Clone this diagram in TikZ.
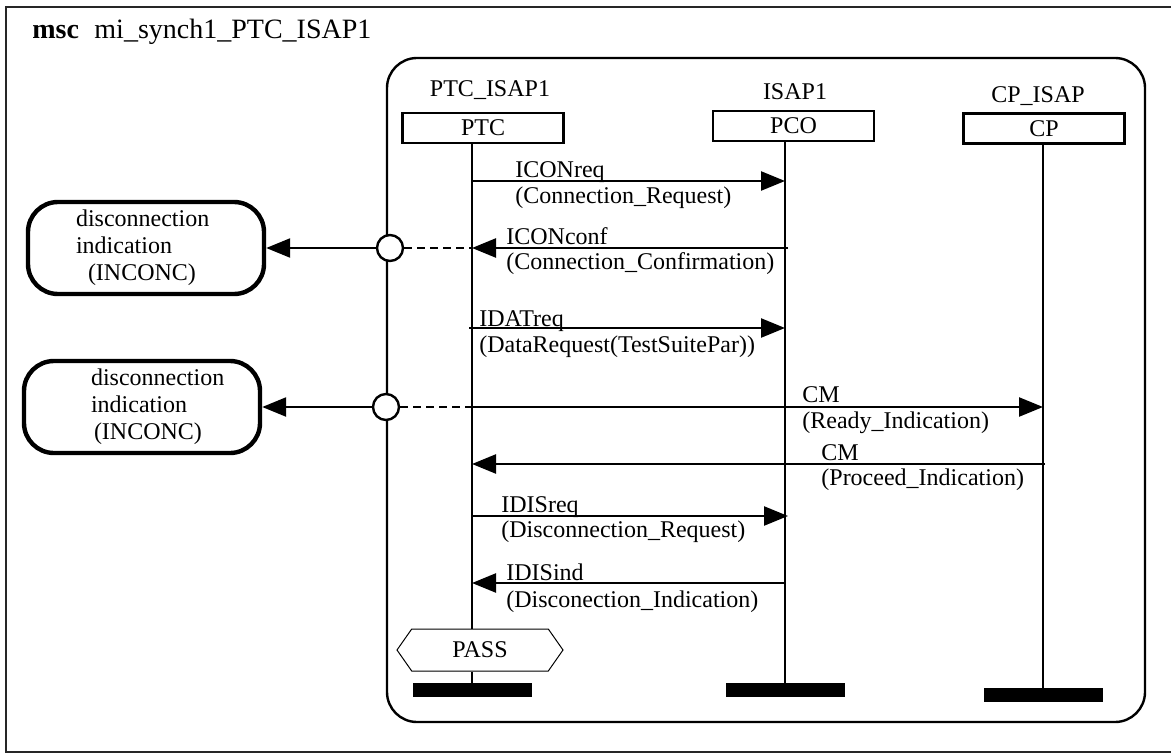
\documentclass[tikz,border=0pt]{standalone}
\usepackage{fontspec}
\setmainfont{Liberation Serif}
\usetikzlibrary{arrows.meta, positioning, shapes.symbols}

\begin{document}
\begin{tikzpicture}[
  x=0.5pt, y=-0.5pt,
  font=\fontsize{12}{13.5}\selectfont,
  inst/.style={draw, line width=1.2pt, minimum width=80.5pt, minimum height=15pt, inner sep=0pt},
  endbar/.style={fill, minimum width=59.5pt, minimum height=7pt, inner sep=0pt},
  life/.style={line width=1.2pt},
  msg/.style={->, line width=1.2pt},
  lbl/.style={anchor=base west, inner sep=0pt},
  verdict/.style={draw, line width=2.2pt, rounded corners=15pt, minimum width=118pt, minimum height=46pt, text width=100pt, align=left, inner sep=0pt},
  port/.style={circle, draw, line width=1.2pt, fill=white, minimum size=13pt, inner sep=0pt},
  >={Triangle[length=12pt, width=9.5pt]}
]
\useasboundingbox (0,0) rectangle (1171,754);

% Frames
\draw[line width=1pt, black!85] (1171,7) -- (6,7) -- (6,752) -- (1171,752);   % outer msc frame
\node[anchor=base west, inner sep=0pt, font=\fontsize{14}{16}\selectfont] (title) at (32,39)
  {\textbf{msc}\hspace{0.55em}mi\_synch1\_PTC\_ISAP1};
\draw[line width=1.2pt, rounded corners=15pt] (387,58) rectangle (1145,722); % test component

% Instances
\node[anchor=base] (ptcname) at (490,97) {PTC\_ISAP1};
\node[anchor=base] (pconame) at (795,100) {ISAP1};
\node[anchor=base] (cpname) at (1038,103) {CP\_ISAP};
\node[inst] (ptc) at (483,128) {PTC};
\node[inst] (pco) at (793.5,126) {PCO};
\node[inst] (cp) at (1044,128.5) {CP};

% Instance ends
\node[endbar] (ptcend) at (472,690) {};
\node[endbar] (pcoend) at (785,690) {};
\node[endbar] (cpend) at (1043,695) {};
\node[signal, signal to=west and east, signal pointer angle=110, draw, line width=0.5pt,
  fill=white, minimum width=83pt, minimum height=21pt, inner sep=0pt] (pass) at (480,650) {PASS};

% Lifelines
\draw[life] (ptc.south -| ptcend) -- (pass.north -| ptcend);
\draw[life] (pass.south -| ptcend) -- (ptcend.north);
\draw[life] (pco.south -| pcoend) -- (pcoend.north);
\draw[life] (cp.south -| cpend) -- (cpend.north);

% Message levels
\coordinate (m1) at (0,181);
\coordinate (m2) at (0,248);
\coordinate (m3) at (0,328);
\coordinate (m4) at (0,407);
\coordinate (m5) at (0,464);
\coordinate (m6) at (0,516);
\coordinate (m7) at (0,583);

% Messages
\draw[msg] (ptcend |- m1) -- (pcoend |- m1);                      % ICONreq
\draw[msg, shorten <=-1.5pt] (pcoend |- m2) -- (ptcend |- m2);    % ICONconf
\draw[msg, shorten <=-1.5pt] (ptcend |- m3) -- (pcoend |- m3);    % IDATreq
\draw[msg] (ptcend |- m4) -- (cpend |- m4);                       % CM ready
\draw[msg, shorten <=-1pt] (cpend |- m5) -- (ptcend |- m5);       % CM proceed
\draw[msg, shorten >=-1.5pt] (ptcend |- m6) -- (pcoend |- m6);    % IDISreq
\draw[msg] (pcoend |- m7) -- (ptcend |- m7);                      % IDISind

% Message labels
\node[lbl] (l1a) at (515,178) {ICONreq};
\node[lbl] (l1b) at (515,204) {(Connection\_Request)};
\node[lbl] (l2a) at (506,244) {ICONconf};
\node[lbl] (l2b) at (506,269) {(Connection\_Confirmation)};
\node[lbl] (l3a) at (479,326) {IDATreq};
\node[lbl] (l3b) at (479,352) {(DataRequest(TestSuitePar))};
\node[lbl] (l4a) at (802,402) {CM};
\node[lbl] (l4b) at (802,428) {(Ready\_Indication)};
\node[lbl] (l5a) at (821,460) {CM};
\node[lbl] (l5b) at (821,485) {(Proceed\_Indication)};
\node[lbl] (l6a) at (501,512) {IDISreq};
\node[lbl] (l6b) at (501,537) {(Disconnection\_Request)};
\node[lbl] (l7a) at (506,580) {IDISind};
\node[lbl] (l7b) at (506,607) {(Disconection\_Indication)};

% Default verdicts
\node[port] (c1) at (390,248) {};
\node[port] (c2) at (386,407) {};
\node[verdict] (v1) at (146,248)
  {\hspace*{15pt}disconnection\\\hspace*{15pt}indication\\\hspace*{21pt}(INCONC)};
\node[verdict] (v2) at (142,407)
  {\hspace*{24.5pt}disconnection\\\hspace*{24.5pt}indication\\\hspace*{26pt}(INCONC)};
\draw[line width=1.2pt, dash pattern=on 4pt off 2.5pt] (c1) -- (ptcend |- c1);
\draw[line width=1.2pt, dash pattern=on 4pt off 2.5pt] (c2) -- (ptcend |- c2);
\draw[msg] (c1) -- (v1);   % to first verdict
\draw[msg] (c2) -- (v2);   % to second verdict
\end{tikzpicture}
\end{document}
